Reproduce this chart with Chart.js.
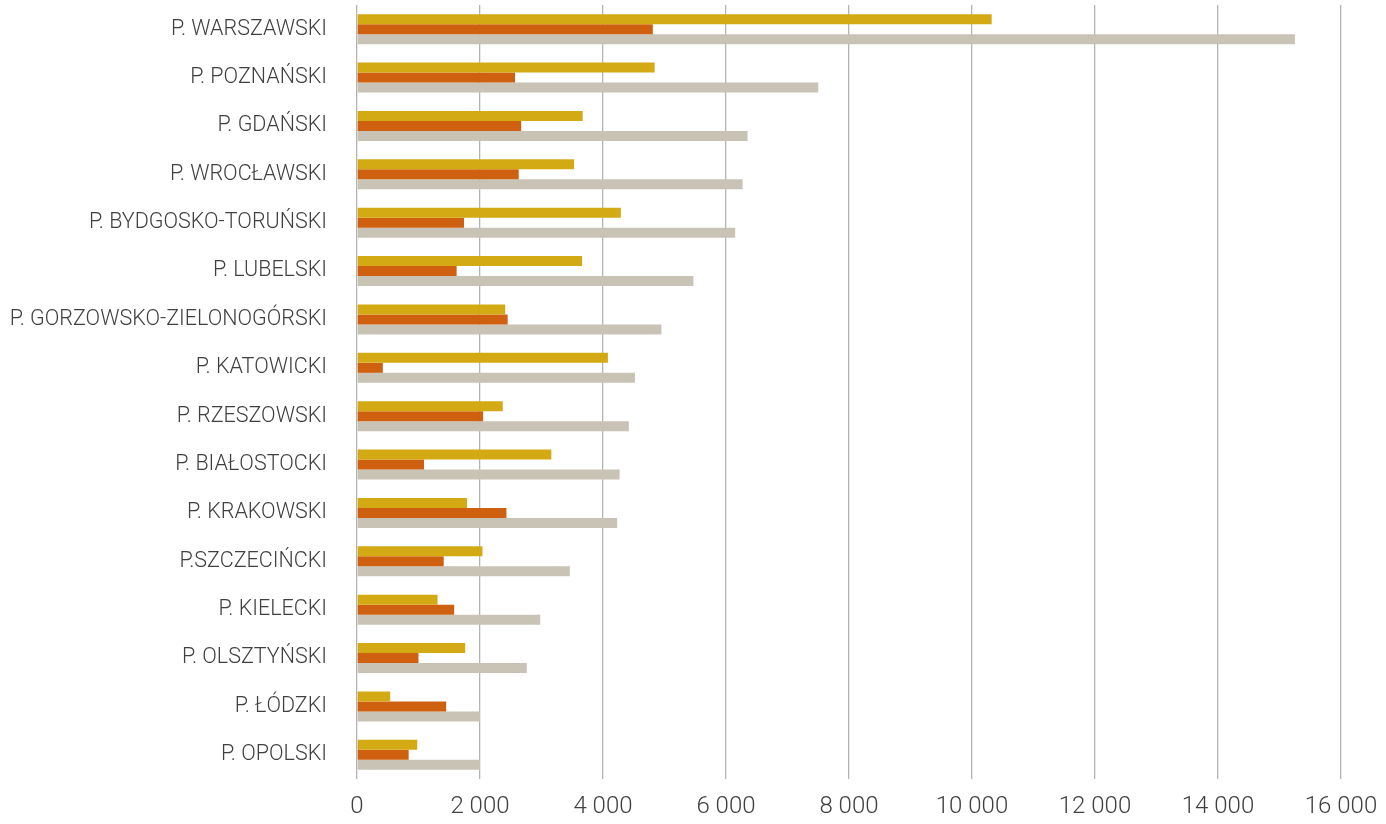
<!DOCTYPE html>
<html>
<head>
<meta charset="utf-8">
<script src="https://cdn.jsdelivr.net/npm/chart.js@4/dist/chart.umd.min.js"></script>
<style>
  html, body { margin: 0; padding: 0; background: #fff; overflow: hidden; }
  canvas { display: block; }
</style>
</head>
<body>
<canvas id="chart" width="1386" height="824"></canvas>
<script>
const categories = [
  'P. WARSZAWSKI', 'P. POZNAŃSKI', 'P. GDAŃSKI', 'P. WROCŁAWSKI',
  'P. BYDGOSKO-TORUŃSKI', 'P. LUBELSKI', 'P. GORZOWSKO-ZIELONOGÓRSKI',
  'P. KATOWICKI', 'P. RZESZOWSKI', 'P. BIAŁOSTOCKI', 'P. KRAKOWSKI',
  'P.SZCZECIŃCKI', 'P. KIELECKI', 'P. OLSZTYŃSKI', 'P. ŁÓDZKI', 'P. OPOLSKI'
];
const goldValues   = [10320, 4840, 3670, 3530, 4290, 3660, 2410, 4080, 2370, 3160, 1790, 2040, 1310, 1760, 540, 980];
const orangeValues = [4810, 2570, 2670, 2630, 1740, 1620, 2450, 420, 2050, 1090, 2430, 1410, 1580, 1000, 1450, 840];
const greyValues   = [15250, 7500, 6350, 6270, 6150, 5470, 4950, 4520, 4420, 4270, 4230, 3460, 2980, 2760, 2000, 2000];
const xTicks = [0, 2000, 4000, 6000, 8000, 10000, 12000, 14000, 16000];

const fmt = v => String(v).replace(/\B(?=(\d{3})+(?!\d))/g, ' ');

// chart.js adds tick padding to the scale paddings, we place the plot by hand
const noPad = s => { s.paddingTop = 0; s.paddingBottom = 0; s.paddingLeft = 0; s.paddingRight = 0; };

new Chart(document.getElementById('chart'), {
  type: 'bar',
  data: {
    labels: categories,
    datasets: [
      { data: goldValues, backgroundColor: '#d4aa14' },
      { data: orangeValues, backgroundColor: '#cf6010' },
      { data: greyValues, backgroundColor: '#c9c3b6' }
    ]
  },
  options: {
    indexAxis: 'y',
    responsive: false,
    animation: false,
    layout: { padding: { left: 8, right: 45, top: 5, bottom: 0 } },
    datasets: { bar: { barPercentage: 1, categoryPercentage: 0.62 } },
    plugins: { legend: { display: false }, tooltip: { enabled: false } },
    scales: {
      x: {
        min: 0, max: 16000,
        afterBuildTicks: axis => { axis.ticks = xTicks.map(v => ({ value: v })); },
        afterFit: s => { noPad(s); s.height = 45; },
        grid: { color: '#b4b4b4', lineWidth: 1.3, drawTicks: false },
        border: { display: false },
        ticks: {
          padding: 14,
          color: '#404040',
          maxRotation: 0,
          font: { family: 'Roboto', weight: '300', size: 24 },
          callback: v => fmt(v)
        }
      },
      y: {
        afterFit: s => { noPad(s); s.width = 349; },
        grid: { display: false, drawTicks: false },
        border: { display: false },
        ticks: {
          padding: 30,
          color: '#404040',
          font: { family: 'Roboto', weight: '300', size: 21.5 }
        }
      }
    }
  }
});
</script>
</body>
</html>
